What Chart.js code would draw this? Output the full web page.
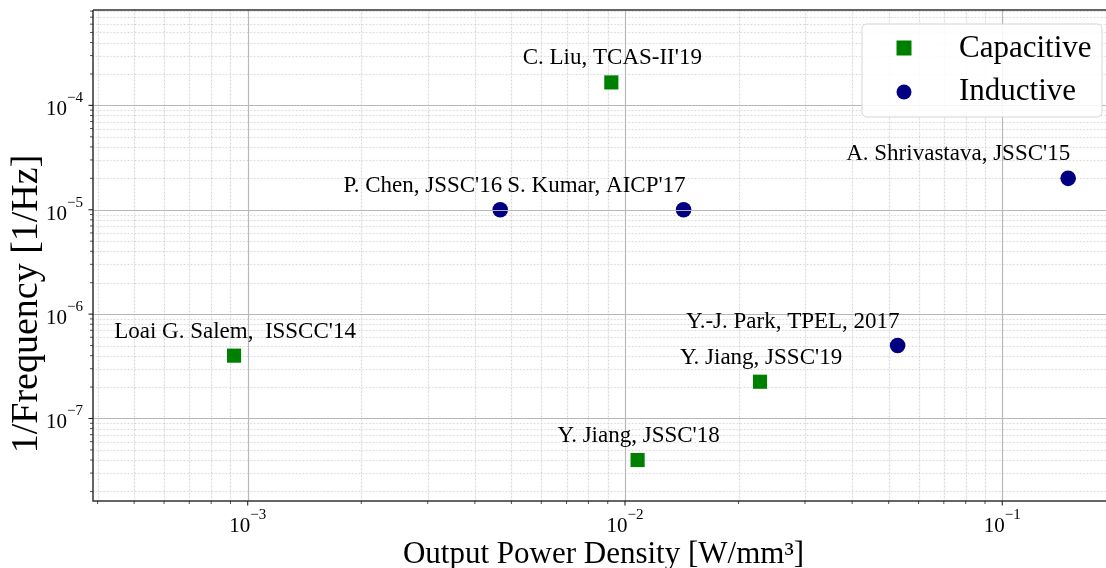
<!DOCTYPE html>
<html>
<head>
<meta charset="utf-8">
<script src="https://cdn.jsdelivr.net/npm/chart.js@4.4.1/dist/chart.umd.min.js"></script>
<style>
  html, body { margin: 0; padding: 0; background: #fff; overflow: hidden; width: 1106px; height: 568px; }
  canvas { display: block; }
</style>
</head>
<body>
<canvas id="c" width="1120" height="568"></canvas>
<script>
// ---------------- data ----------------
const capX = [9.2e-4, 9.2e-3, 0.0108, 0.0228];
const capY = [4.0e-7, 1.66e-4, 4.0e-8, 2.25e-7];
const capLabels = ["Loai G. Salem,  ISSCC'14", "C. Liu, TCAS-II'19", "Y. Jiang, JSSC'18", "Y. Jiang, JSSC'19"];
const capAlign = ["center", "center", "center", "center"];

const indX = [4.67e-3, 0.0143, 0.0528, 0.1495];
const indY = [1.0e-5, 1.0e-5, 5.0e-7, 2.0e-5];
const indLabels = ["P. Chen, JSSC'16", "S. Kumar, AICP'17", "Y.-J. Park, TPEL, 2017", "A. Shrivastava, JSSC'15"];
const indAlign = ["right", "right", "right", "right"];

const seriesNames = ["Capacitive", "Inductive"];
const xTickExps = [-3, -2, -1];
const yTickExps = [-7, -6, -5, -4];
const xRange = [3.89e-4, 0.193];
const yRange = [1.62e-8, 8.2e-4];
const xTitle = "Output Power Density [W/mm\u00B3]";
const yTitle = "1/Frequency [1/Hz]";

// ---------------- style ----------------
const GREEN = "#008000", NAVY = "#000080";
const FONT = "'Liberation Serif', 'Times New Roman', serif";

function toPts(xs, ys) { return xs.map((x, i) => ({ x: x, y: ys[i] })); }

function tickValues(min, max) {
  const out = [];
  for (let e = Math.floor(Math.log10(min)); e <= Math.ceil(Math.log10(max)); e++) {
    for (let m = 1; m <= 9; m++) {
      const v = m * Math.pow(10, e);
      if (v >= min && v <= max) out.push({ v: v, major: m === 1 });
    }
  }
  return out;
}
function line(ctx, x1, y1, x2, y2) { ctx.beginPath(); ctx.moveTo(x1, y1); ctx.lineTo(x2, y2); ctx.stroke(); }

const drawPlugin = {
  id: "mplLook",
  beforeDatasetsDraw(chart) {
    const ctx = chart.ctx, a = chart.chartArea;
    const xs = chart.scales.x, ys = chart.scales.y;
    ctx.save();
    ctx.beginPath(); ctx.rect(a.left, a.top, a.right - a.left, a.bottom - a.top); ctx.clip();
    tickValues(xRange[0], xRange[1]).filter(t => !t.major).forEach(t => {
      const p = Math.round(xs.getPixelForValue(t.v)) + 0.5;
      ctx.setLineDash([]); ctx.strokeStyle = "rgba(0,0,0,0.05)"; ctx.lineWidth = 1.5; line(ctx, p, a.top, p, a.bottom);
      ctx.setLineDash([1, 2.5]); ctx.strokeStyle = "#cfcfcf"; ctx.lineWidth = 0.9; line(ctx, p, a.top, p, a.bottom);
    });
    tickValues(yRange[0], yRange[1]).filter(t => !t.major).forEach(t => {
      const p = Math.round(ys.getPixelForValue(t.v)) + 0.5;
      ctx.setLineDash([]); ctx.strokeStyle = "rgba(0,0,0,0.03)"; ctx.lineWidth = 1.5; line(ctx, a.left, p, a.right, p);
      ctx.setLineDash([1, 2.5]); ctx.strokeStyle = "#cfcfcf"; ctx.lineWidth = 0.9; line(ctx, a.left, p, a.right, p);
    });
    ctx.restore();
  },
  afterDatasetsDraw(chart) {
    const ctx = chart.ctx, a = chart.chartArea;
    const xs = chart.scales.x, ys = chart.scales.y;
    const xv = tickValues(xRange[0], xRange[1]);
    const yv = tickValues(yRange[0], yRange[1]);
    ctx.save();
    ctx.beginPath(); ctx.rect(a.left, a.top, a.right - a.left, a.bottom - a.top); ctx.clip();
    ctx.setLineDash([]); ctx.strokeStyle = "#b8b8b8"; ctx.lineWidth = 1.2;
    xv.filter(t => t.major).forEach(t => { const p = Math.round(xs.getPixelForValue(t.v)) + 0.5; line(ctx, p, a.top, p, a.bottom); });
    yv.filter(t => t.major).forEach(t => { const p = Math.round(ys.getPixelForValue(t.v)) + 0.5; line(ctx, a.left, p, a.right, p); });
    ctx.restore();

    // spines
    ctx.save();
    ctx.strokeStyle = "#333"; ctx.lineWidth = 1.5;
    ctx.beginPath();
    ctx.moveTo(a.left, a.top); ctx.lineTo(a.right + 5, a.top);
    ctx.moveTo(a.left, a.top); ctx.lineTo(a.left, a.bottom);
    ctx.lineTo(a.right + 5, a.bottom);
    ctx.stroke();
    // ticks
    ctx.strokeStyle = "#222";
    xv.forEach(t => {
      const p = xs.getPixelForValue(t.v);
      ctx.lineWidth = t.major ? 1.1 : 0.8;
      line(ctx, p, a.bottom, p, a.bottom + (t.major ? 4.5 : 3));
    });
    yv.forEach(t => {
      const p = ys.getPixelForValue(t.v);
      ctx.lineWidth = t.major ? 1.1 : 0.8;
      line(ctx, a.left, p, a.left - (t.major ? 4.5 : 3), p);
    });

    // tick labels
    ctx.fillStyle = "#000";
    ctx.textBaseline = "alphabetic";
    ctx.textAlign = "left";
    function powLabel(exp) {
      ctx.font = "21px " + FONT;
      const w1 = ctx.measureText("10").width;
      ctx.font = "15px " + FONT;
      const s = "\u2212" + Math.abs(exp);
      const w2 = ctx.measureText(s).width;
      return { w1, w2, s };
    }
    xTickExps.forEach(e => {
      const p = xs.getPixelForValue(Math.pow(10, e));
      const L = powLabel(e);
      const x0 = p - (L.w1 + L.w2) / 2;
      ctx.font = "21px " + FONT; ctx.fillText("10", x0, a.bottom + 31);
      ctx.font = "15px " + FONT; ctx.fillText(L.s, x0 + L.w1, a.bottom + 18);
    });
    yTickExps.forEach(e => {
      const p = ys.getPixelForValue(Math.pow(10, e));
      const L = powLabel(e);
      const x1 = a.left - 10;
      ctx.font = "21px " + FONT; ctx.fillText("10", x1 - L.w2 - L.w1, p + 10);
      ctx.font = "15px " + FONT; ctx.fillText(L.s, x1 - L.w2, p - 3);
    });

    // axis titles
    ctx.font = "31px " + FONT;
    ctx.textAlign = "center";
    ctx.fillText(xTitle, (a.left + a.right) / 2 + 2, 563);
    ctx.save();
    ctx.translate(37, 304);
    ctx.rotate(-Math.PI / 2);
    ctx.font = "38px " + FONT;
    ctx.fillText(yTitle, 0, 0);
    ctx.restore();

    // annotations
    ctx.font = "23px " + FONT;
    function annotate(xArr, yArr, labs, al) {
      labs.forEach((t, i) => {
        const px = xs.getPixelForValue(xArr[i]);
        const py = ys.getPixelForValue(yArr[i]);
        ctx.textAlign = al[i];
        ctx.fillText(t, al[i] === "right" ? px + 2 : px + 1, py - 18);
      });
    }
    annotate(capX, capY, capLabels, capAlign);
    annotate(indX, indY, indLabels, indAlign);

    // legend
    const lx = 862, ly = 24, lw = 240, lh = 93, r = 5;
    ctx.beginPath();
    ctx.moveTo(lx + r, ly); ctx.lineTo(lx + lw - r, ly); ctx.arcTo(lx + lw, ly, lx + lw, ly + r, r);
    ctx.lineTo(lx + lw, ly + lh - r); ctx.arcTo(lx + lw, ly + lh, lx + lw - r, ly + lh, r);
    ctx.lineTo(lx + r, ly + lh); ctx.arcTo(lx, ly + lh, lx, ly + lh - r, r);
    ctx.lineTo(lx, ly + r); ctx.arcTo(lx, ly, lx + r, ly, r); ctx.closePath();
    ctx.fillStyle = "rgba(255,255,255,0.85)"; ctx.fill();
    ctx.strokeStyle = "#d6d6d6"; ctx.lineWidth = 1; ctx.stroke();
    ctx.fillStyle = GREEN; ctx.fillRect(904 - 7.5, 48 - 7.5, 15, 15);
    ctx.fillStyle = NAVY; ctx.beginPath(); ctx.arc(904, 92, 7.5, 0, Math.PI * 2); ctx.fill();
    ctx.fillStyle = "#000"; ctx.font = "31px " + FONT; ctx.textAlign = "left";
    ctx.fillText(seriesNames[0], 959, 57);
    ctx.fillText(seriesNames[1], 959, 100);
    ctx.restore();
  }
};

new Chart(document.getElementById("c"), {
  type: "scatter",
  data: {
    datasets: [
      { label: seriesNames[0], data: toPts(capX, capY), pointStyle: "rect", pointRadius: 10, pointHoverRadius: 10,
        backgroundColor: GREEN, borderColor: GREEN, borderWidth: 0 },
      { label: seriesNames[1], data: toPts(indX, indY), pointStyle: "circle", pointRadius: 7.8, pointHoverRadius: 7.8,
        backgroundColor: NAVY, borderColor: NAVY, borderWidth: 0 }
    ]
  },
  options: {
    responsive: false,
    devicePixelRatio: 1,
    animation: false,
    events: [],
    layout: { padding: { top: 7, right: 8, left: 0, bottom: 0 } },
    plugins: { legend: { display: false }, tooltip: { enabled: false } },
    scales: {
      x: {
        type: "logarithmic", min: xRange[0], max: xRange[1],
        ticks: { display: false }, grid: { display: false }, border: { display: false },
        afterFit: s => { s.height = 67; }
      },
      y: {
        type: "logarithmic", min: yRange[0], max: yRange[1],
        ticks: { display: false }, grid: { display: false }, border: { display: false },
        afterFit: s => { s.width = 93; }
      }
    }
  },
  plugins: [drawPlugin]
});
</script>
</body>
</html>
